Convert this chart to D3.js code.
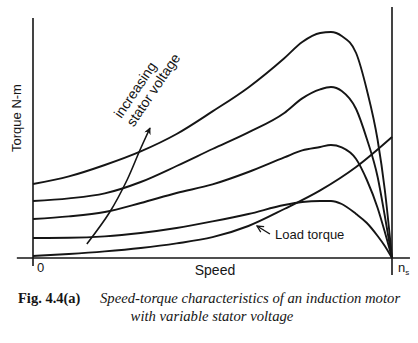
<!DOCTYPE html>
<html>
<head>
<meta charset="utf-8">
<script src="https://cdn.jsdelivr.net/npm/d3@7"></script>
<style>
  html, body { margin: 0; padding: 0; background: #fff; }
  svg { display: block; }
</style>
</head>
<body>
<svg id="chart" width="418" height="343"></svg>
<script>
// ---- data (speed in % of synchronous speed n_s, torque in arbitrary units) ----
const speed = [0, 10, 20, 30, 40, 50, 60, 70, 75, 80, 83, 86, 90, 93, 96, 98, 100];
const torqueV4 = [3.7, 4.08, 4.65, 5.33, 6.2, 7.33, 8.53, 9.99, 10.8, 11.25, 11.3, 11.1, 10.25, 8.4, 5.9, 3.4, 0];
const torqueV3 = [2.85, 2.98, 3.23, 3.8, 4.6, 5.45, 6.28, 7.25, 7.98, 8.43, 8.55, 8.35, 7.45, 5.95, 4.05, 2.1, 0];
const torqueV2 = [1.95, 2.08, 2.3, 2.75, 3.25, 3.68, 4.3, 5.03, 5.38, 5.55, 5.65, 5.53, 4.95, 3.9, 2.5, 1.3, 0];
const torqueV1 = [1.0, 1.01, 1.08, 1.25, 1.5, 1.83, 2.2, 2.65, 2.8, 2.85, 2.85, 2.7, 2.2, 1.75, 1.1, 0.6, 0];
const loadSpeed = [0, 10, 20, 30, 40, 50, 60, 70, 80, 90, 100];
const loadTorque = [0.1, 0.2, 0.33, 0.5, 0.73, 1.04, 1.6, 2.45, 3.38, 4.55, 6.05];
const voltageArrow = [[15, 0.7], [21.4, 2.3], [26.2, 3.9], [29.8, 5.4], [32.6, 6.5]];
const loadArrow = [[66, 1.2], [62.4, 1.6]];
const xTickLabels = ["0", "n"];
const labels = {
  yTitle: "Torque N-m",
  xTitle: "Speed",
  voltage: ["increasing", "stator voltage"],
  load: "Load torque",
  figNo: "Fig. 4.4(a)",
  caption: ["Speed-torque characteristics of an induction motor", "with variable stator voltage"]
};

// ---- scales ----
const x = d3.scaleLinear().domain([0, 100]).range([33, 392]);
const y = d3.scaleLinear().domain([0, 12]).range([258, 18]);

const svg = d3.select("#chart");
const ink = "#151515";
const sans = "'Liberation Sans', Arial, sans-serif";
const serif = "'Liberation Serif', 'Times New Roman', serif";

// markers
const defs = svg.append("defs");
defs.append("marker").attr("id", "headFilled")
  .attr("viewBox", "0 0 10 10").attr("refX", 9).attr("refY", 5)
  .attr("markerWidth", 9).attr("markerHeight", 7).attr("markerUnits", "userSpaceOnUse")
  .attr("orient", "auto")
  .append("path").attr("d", "M0,0 L10,5 L0,10 L3,5 Z").attr("fill", ink);
defs.append("marker").attr("id", "headOpen")
  .attr("viewBox", "0 0 10 10").attr("refX", 9).attr("refY", 5)
  .attr("markerWidth", 8).attr("markerHeight", 8).attr("markerUnits", "userSpaceOnUse")
  .attr("orient", "auto")
  .append("path").attr("d", "M1,1 L9,5 L1,9").attr("fill", "none").attr("stroke", ink).attr("stroke-width", 1.6);

// ---- axes ----
const xAxis = d3.axisBottom(x).tickValues([0, 100]).tickSize(0).tickFormat("");
svg.append("g").attr("transform", `translate(0,${y(0)})`).call(xAxis).call(g => g.select(".domain").remove());

svg.append("line")
  .attr("x1", x(-4.5)).attr("x2", x(105)).attr("y1", y(0)).attr("y2", y(0))
  .attr("stroke", ink).attr("stroke-width", 1.6);
svg.append("line")
  .attr("x1", x(0)).attr("x2", x(0)).attr("y1", y(12)).attr("y2", y(-0.4))
  .attr("stroke", ink).attr("stroke-width", 1.6);
svg.append("line")
  .attr("x1", x(100)).attr("x2", x(100)).attr("y1", y(12.55)).attr("y2", y(-0.85))
  .attr("stroke", ink).attr("stroke-width", 1.6);

// ---- curves ----
const line = d3.line().x(d => x(d[0])).y(d => y(d[1])).curve(d3.curveMonotoneX);
[torqueV1, torqueV2, torqueV3, torqueV4].forEach(t => {
  svg.append("path")
    .datum(speed.map((s, i) => [s, t[i]]))
    .attr("d", line)
    .attr("fill", "none").attr("stroke", ink).attr("stroke-width", 1.9);
});
svg.append("path")
  .datum(loadSpeed.map((s, i) => [s, loadTorque[i]]))
  .attr("d", line)
  .attr("fill", "none").attr("stroke", ink).attr("stroke-width", 1.9);

// ---- annotation arrows ----
svg.append("path")
  .datum(voltageArrow)
  .attr("d", d3.line().x(d => x(d[0])).y(d => y(d[1])).curve(d3.curveCatmullRom))
  .attr("fill", "none").attr("stroke", ink).attr("stroke-width", 1.6)
  .attr("marker-end", "url(#headFilled)");
svg.append("path")
  .datum(loadArrow)
  .attr("d", d3.line().x(d => x(d[0])).y(d => y(d[1])))
  .attr("fill", "none").attr("stroke", ink).attr("stroke-width", 1.4)
  .attr("marker-end", "url(#headOpen)");

// ---- texts ----
svg.append("text")
  .attr("transform", `translate(21,118) rotate(-90)`)
  .attr("text-anchor", "middle")
  .attr("font-family", sans).attr("font-size", 13).attr("fill", ink)
  .text(labels.yTitle);

svg.append("text").attr("x", x(0) + 4).attr("y", 272)
  .attr("font-family", sans).attr("font-size", 13).attr("fill", ink).text(xTickLabels[0]);
const ns = svg.append("text").attr("x", x(100) + 6).attr("y", 272)
  .attr("font-family", sans).attr("font-size", 13).attr("fill", ink);
ns.append("tspan").text(xTickLabels[1]);
ns.append("tspan").attr("font-size", 8).attr("dy", 3).text("s");

svg.append("text").attr("x", 215).attr("y", 275)
  .attr("text-anchor", "middle")
  .attr("font-family", sans).attr("font-size", 14).attr("fill", ink).text(labels.xTitle);

const vt = svg.append("text")
  .attr("transform", `translate(${x(24.6)},${y(6.95)}) rotate(-56)`)
  .attr("font-family", sans).attr("font-size", 14).attr("fill", ink);
vt.append("tspan").attr("x", 0).attr("dy", 0).text(labels.voltage[0]);
vt.append("tspan").attr("x", 0).attr("dy", 15).text(labels.voltage[1]);

svg.append("text").attr("x", x(67.4)).attr("y", y(0.95))
  .attr("font-family", sans).attr("font-size", 13).attr("fill", ink).text(labels.load);

svg.append("text").attr("x", 18).attr("y", 303)
  .attr("font-family", serif).attr("font-size", 14.5).attr("font-weight", "bold").attr("fill", ink)
  .text(labels.figNo);
svg.append("text").attr("x", 100).attr("y", 303)
  .attr("font-family", serif).attr("font-size", 14.7).attr("font-style", "italic").attr("fill", ink)
  .text(labels.caption[0]);
svg.append("text").attr("x", 212).attr("y", 321)
  .attr("text-anchor", "middle")
  .attr("font-family", serif).attr("font-size", 14.7).attr("font-style", "italic").attr("fill", ink)
  .text(labels.caption[1]);
</script>
</body>
</html>
